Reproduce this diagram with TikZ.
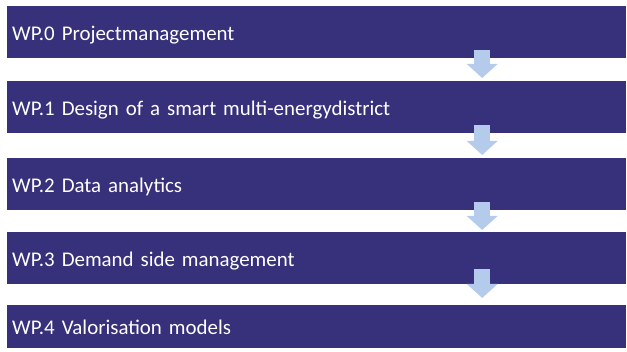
\documentclass[tikz,border=0pt]{standalone}
\usepackage{fontspec}
\setmainfont{Carlito}
\usetikzlibrary{arrows.meta}

\definecolor{wpblue}{RGB}{55,48,122}
\definecolor{flowblue}{RGB}{180,203,235}

\begin{document}
\begin{tikzpicture}[x=1pt,y=-1pt,
    wp/.style={rectangle, fill=wpblue, text=white, anchor=north west,
      minimum height=52pt, text width=609pt, inner xsep=5pt, align=left,
      text height=17pt, text depth=1pt, font=\fontsize{20.9}{24}\selectfont},
    flow/.style={draw=flowblue, line width=16pt,
      -{Triangle[width=30pt,length=14pt]}, flowblue}]
    \useasboundingbox (0,0) rectangle (627,352);

    % Work package bars
    \node[wp] (wp0) at (7,6) {WP.0 Projectmanagement};
    \node[wp] (wp1) at (7,81) {WP.1 Design of a smart multi-energydistrict};
    \node[wp] (wp2) at (7,158) {WP.2 Data analytics};
    \node[wp] (wp3) at (7,232) {WP.3 Demand side management};
    \node[wp, minimum height=43pt] (wp4) at (7,305) {WP.4 Valorisation models};

    % Arrows from one package to the next
    \draw[flow] ([xshift=165.5pt,yshift=8.5pt]wp0.south) -- ([xshift=165.5pt,yshift=3pt]wp1.north);
    \draw[flow] ([xshift=165.5pt,yshift=8.5pt]wp1.south) -- ([xshift=165.5pt,yshift=3pt]wp2.north);
    \draw[flow] ([xshift=165.5pt,yshift=8.5pt]wp2.south) -- ([xshift=165.5pt,yshift=2pt]wp3.north);
    \draw[flow] ([xshift=165.5pt,yshift=15pt]wp3.south) -- ([xshift=165.5pt,yshift=7pt]wp4.north);
\end{tikzpicture}
\end{document}
